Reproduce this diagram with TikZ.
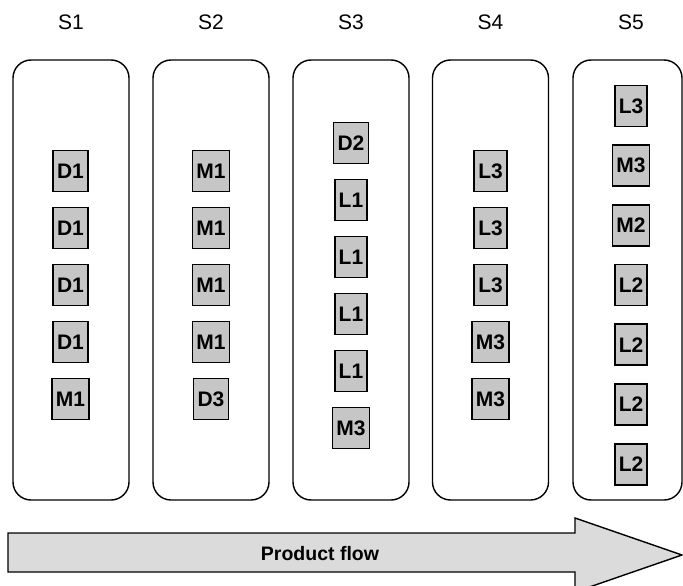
\documentclass[tikz,border=0pt]{standalone}
\usepackage{fontspec}
\setmainfont{Liberation Sans}
\begin{document}
\begin{tikzpicture}[x=1pt,y=-1pt,
  stage/.style={draw, line width=1.4pt, rounded corners=18pt,
    minimum width=116pt, minimum height=440pt, inner sep=0pt},
  part/.style={draw, line width=1.7pt, fill=gray!45, minimum height=41pt,
    inner xsep=4pt, inner ysep=0pt, font=\bfseries\fontsize{21}{21}\selectfont},
  stagename/.style={font=\fontsize{21}{21}\selectfont},
  flow/.style={draw, line width=1.4pt, fill=gray!28}]
\useasboundingbox (0,0) rectangle (683,586);

% stage frames and their names
\foreach \x [count=\i] in {71,211,351,490.5} {
  \node[stage] (stage\i) at (\x,280) {};
  \node[stagename] (name\i) at (\x,22) {S\i};
}
\node[stage, minimum width=109pt] (stage5) at (627.5,280) {};
\node[stagename] (name5) at (631,22) {S5};

% parts waiting at each stage
\foreach \lab [count=\i] in {D1,D1,D1,D1,M1}
  \node[part] (pa\i) at (70.5,171+57*\i-57) {\lab};
\foreach \lab [count=\i] in {M1,M1,M1,M1,D3}
  \node[part] (pb\i) at (211,171+57*\i-57) {\lab};
\foreach \lab [count=\i] in {D2,L1,L1,L1,L1,M3}
  \node[part] (pc\i) at (351,143+57*\i-57) {\lab};
\foreach \lab [count=\i] in {L3,L3,L3,M3,M3}
  \node[part] (pd\i) at (490.5,171+57*\i-57) {\lab};
\foreach \lab [count=\i] in {L3,M3,M2,L2,L2,L2,L2}
  \node[part] (pe\i) at (631,106+59.7*\i-59.7) {\lab};

% product flow arrow
\draw[flow] (8,533) -- (575,533) -- (575,518) -- (682,555)
  -- (575,592) -- (575,572) -- (8,572) -- cycle;
\node[font=\bfseries\fontsize{19.5}{19.5}\selectfont] (flowlabel) at (320,554) {Product flow};
\end{tikzpicture}
\end{document}
